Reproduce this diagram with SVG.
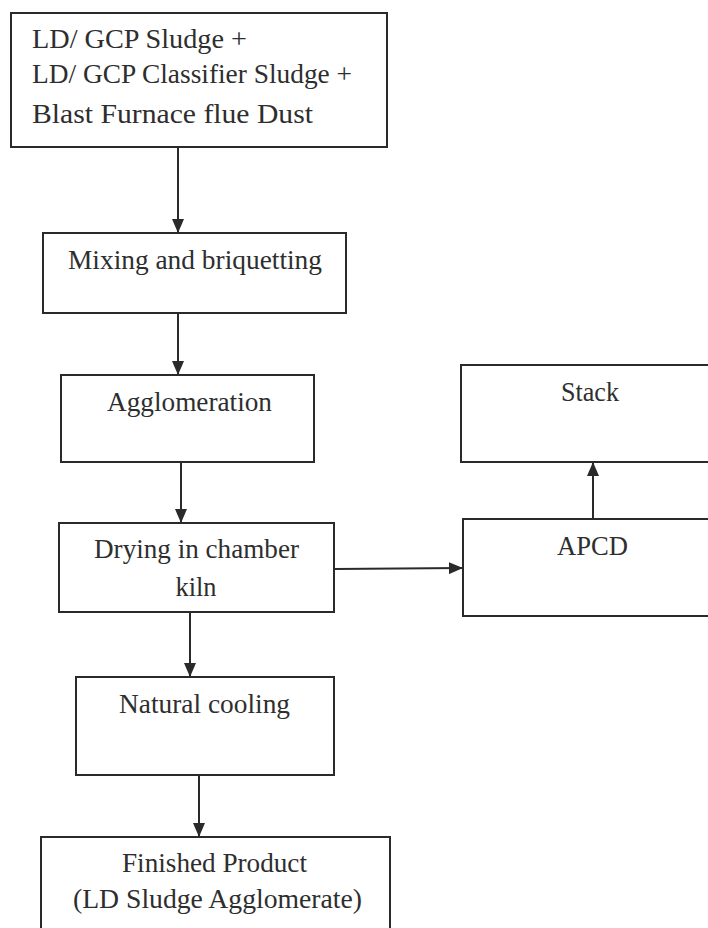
<svg xmlns="http://www.w3.org/2000/svg" width="708" height="928" viewBox="0 0 708 928">
<style>
.box{fill:#fff;stroke:#2a2a2a;stroke-width:2}
.t{font-family:'Liberation Serif','Times New Roman',serif;font-size:27px;fill:#2e2e2e}
.c{text-anchor:middle}
.conn{stroke:#2a2a2a;stroke-width:2;fill:none}
</style>
<defs>
<marker id="ah" markerUnits="userSpaceOnUse" markerWidth="14" markerHeight="12" viewBox="0 0 14 12" refX="14" refY="6" orient="auto">
<path d="M0,0 L14,6 L0,12 z" fill="#2a2a2a"/>
</marker>
</defs>
<rect width="708" height="928" fill="#fff"/>
<g id="n-inputs">
<rect class="box" x="11" y="13" width="376" height="134"/>
<text class="t" x="32" y="48" textLength="215" lengthAdjust="spacingAndGlyphs">LD/ GCP Sludge +</text>
<text class="t" x="32" y="83" textLength="320" lengthAdjust="spacingAndGlyphs">LD/ GCP Classifier Sludge +</text>
<text class="t" x="32" y="123" textLength="281" lengthAdjust="spacingAndGlyphs" style="font-size:28px">Blast Furnace flue Dust</text>
</g>
<g id="n-mixing">
<rect class="box" x="43" y="233" width="303" height="80"/>
<text class="t c" x="195" y="269" textLength="254" lengthAdjust="spacingAndGlyphs">Mixing and briquetting</text>
</g>
<g id="n-agglomeration">
<rect class="box" x="61" y="375" width="253" height="87"/>
<text class="t c" x="189.5" y="411" textLength="165" lengthAdjust="spacingAndGlyphs">Agglomeration</text>
</g>
<g id="n-drying">
<rect class="box" x="59" y="523" width="275" height="89"/>
<text class="t c" x="196.5" y="558" textLength="205" lengthAdjust="spacingAndGlyphs">Drying in chamber</text>
<text class="t c" x="196" y="596" textLength="41" lengthAdjust="spacingAndGlyphs">kiln</text>
</g>
<g id="n-cooling">
<rect class="box" x="76" y="677" width="258" height="98"/>
<text class="t c" x="204.5" y="713" textLength="171" lengthAdjust="spacingAndGlyphs">Natural cooling</text>
</g>
<g id="n-product">
<rect class="box" x="41" y="837" width="349" height="110"/>
<text class="t c" x="214.5" y="872" textLength="185" lengthAdjust="spacingAndGlyphs">Finished Product</text>
<text class="t c" x="217.5" y="908" textLength="289" lengthAdjust="spacingAndGlyphs">(LD Sludge Agglomerate)</text>
</g>
<g id="n-stack">
<rect class="box" x="461" y="365" width="260" height="97"/>
<text class="t c" x="590" y="401" textLength="58" lengthAdjust="spacingAndGlyphs">Stack</text>
</g>
<g id="n-apcd">
<rect class="box" x="463" y="519" width="258" height="97"/>
<text class="t c" x="592.5" y="555" textLength="71" lengthAdjust="spacingAndGlyphs">APCD</text>
</g>
<g id="connectors">
<line class="conn" x1="178" y1="147" x2="178" y2="233" marker-end="url(#ah)"/>
<line class="conn" x1="178" y1="313" x2="178" y2="375" marker-end="url(#ah)"/>
<line class="conn" x1="181" y1="462" x2="181" y2="523" marker-end="url(#ah)"/>
<line class="conn" x1="190" y1="612" x2="190" y2="677" marker-end="url(#ah)"/>
<line class="conn" x1="199" y1="775" x2="199" y2="837" marker-end="url(#ah)"/>
<line class="conn" x1="334" y1="569" x2="463" y2="568" marker-end="url(#ah)"/>
<line class="conn" x1="593" y1="519" x2="593" y2="462" marker-end="url(#ah)"/>
</g>
</svg>
